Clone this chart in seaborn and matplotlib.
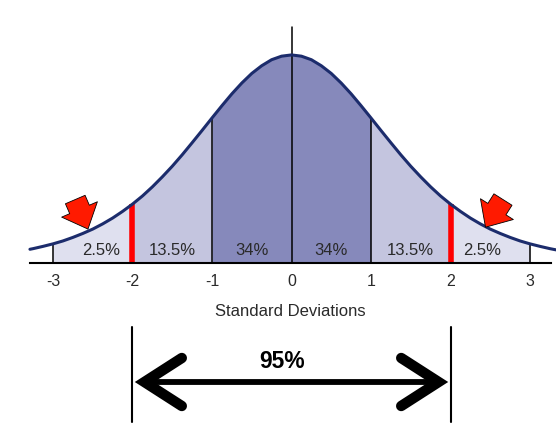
import numpy as np
import pandas as pd
import seaborn as sns
import matplotlib.pyplot as plt

# bell curve (height relative to the peak, step 0.125 sd)
curve_x = [-3.29, -3.25, -3.125, -3.0, -2.875, -2.75, -2.625, -2.5, -2.375, -2.25,
           -2.125, -2.0, -1.875, -1.75, -1.625, -1.5, -1.375, -1.25, -1.125, -1.0,
           -0.875, -0.75, -0.625, -0.5, -0.375, -0.25, -0.125, 0.0,
           0.125, 0.25, 0.375, 0.5, 0.625, 0.75, 0.875, 1.0, 1.125, 1.25, 1.375,
           1.5, 1.625, 1.75, 1.875, 2.0, 2.125, 2.25, 2.375, 2.5, 2.625, 2.75,
           2.875, 3.0, 3.125, 3.25, 3.33]
curve_y = [0.066, 0.069, 0.080, 0.092, 0.106, 0.123, 0.142, 0.163, 0.188, 0.216,
           0.248, 0.283, 0.322, 0.366, 0.414, 0.465, 0.520, 0.578, 0.637, 0.697,
           0.756, 0.813, 0.865, 0.911, 0.948, 0.977, 0.994, 1.000,
           0.994, 0.977, 0.948, 0.911, 0.865, 0.813, 0.756, 0.697, 0.637, 0.578, 0.520,
           0.465, 0.414, 0.366, 0.322, 0.283, 0.248, 0.216, 0.188, 0.163, 0.142, 0.123,
           0.106, 0.092, 0.080, 0.069, 0.063]

band_edges = [-3, -2, -1, 1, 2, 3]
band_colors = ["#dfe0ef", "#c4c5df", "#8689bb", "#c4c5df", "#dfe0ef"]
pct_labels = ["2.5%", "13.5%", "34%", "34%", "13.5%", "2.5%"]
pct_x = [-2.4, -1.5, -0.5, 0.5, 1.5, 2.4]
ticks = [-3, -2, -1, 0, 1, 2, 3]
black_lines = [-3, -1, 1, 3]
red_lines = [-2, 2]

df = pd.DataFrame({"sd": curve_x, "h": curve_y})
h_at = df.set_index("sd")["h"]

sns.set_theme(style="white")
plt.rcParams["font.family"] = ["Liberation Sans", "DejaVu Sans"]

fig = plt.figure(figsize=(5.56, 4.40), dpi=100)
ax = fig.add_axes([30 / 556, 177 / 440, 521 / 556, 263 / 440])
xlim = ((30 - 291.5) / 79.5, (551 - 291.5) / 79.5)

# shaded bands
for (lo, hi), col in zip(zip(band_edges[:-1], band_edges[1:]), band_colors):
    part = df[(df.sd >= lo) & (df.sd <= hi)]
    ax.fill_between(part.sd, 0, part.h, color=col, lw=0)

# vertical separators
for v in black_lines:
    ax.plot([v, v], [0, h_at[v]], color="black", lw=1.1)
ax.plot([0, 0], [0, 1.135], color="black", lw=1.1)
for v in red_lines:
    ax.plot([v, v], [0, h_at[v]], color="#ff0000", lw=4, solid_capstyle="butt")

sns.lineplot(data=df, x="sd", y="h", ax=ax, color="#1c2c6c", lw=2.2)
for ln in ax.lines:
    ln.set_clip_on(False)

for lab, x in zip(pct_labels, pct_x):
    ax.text(x, 0.06, lab, ha="center", va="center", fontsize=12, color="#2a2a2a")

# red pointers at the tails
for tail, tip in [((-2.72, 0.305), (-2.56, 0.163)), ((2.66, 0.305), (2.44, 0.172))]:
    ax.annotate("", xy=tip, xytext=tail,
                arrowprops=dict(arrowstyle="simple,head_length=0.55,head_width=1.0,tail_width=0.55",
                                mutation_scale=28, fc="#ff1a00", ec="black", lw=0.6,
                                shrinkA=0, shrinkB=0))

ax.set_xlim(*xlim)
ax.set_ylim(0, 1.264)
ax.set_xticks(ticks)
ax.set_xticklabels([str(t) for t in ticks])
ax.set_yticks([])
ax.tick_params(axis="x", length=0, pad=8, labelsize=11.5, labelcolor="#2a2a2a")
ax.set_xlabel("Standard Deviations", fontsize=12, color="#2a2a2a", labelpad=11)
ax.set_ylabel("")
for s in ["left", "right", "top"]:
    ax.spines[s].set_visible(False)
ax.spines["bottom"].set_color("black")
ax.spines["bottom"].set_linewidth(1.5)
ax.patch.set_alpha(0)

# 95% span below the axis
ax2 = fig.add_axes([30 / 556, 0, 521 / 556, 177 / 440])
ax2.set_xlim(*xlim)
ax2.set_ylim(440, 263)
ax2.axis("off")
for v in red_lines:
    ax2.plot([v, v], [327, 422], color="black", lw=1.5)
ay = 382
ax2.plot([-2 + 0.15, 2 - 0.15], [ay, ay], color="black", lw=4.2, solid_capstyle="butt")
for side in (-1, 1):
    tip = side * (2 - 0.15)
    wing = side * (2 - 0.62)
    ax2.plot([wing, tip, wing], [ay - 24, ay, ay + 24], color="black", lw=7.5,
             solid_capstyle="round", solid_joinstyle="miter")
ax2.text(-0.12, 361, "95%", ha="center", va="center", fontsize=16.5,
         fontweight="bold", color="black")

fig.savefig("out.png", dpi=100, facecolor="white")
